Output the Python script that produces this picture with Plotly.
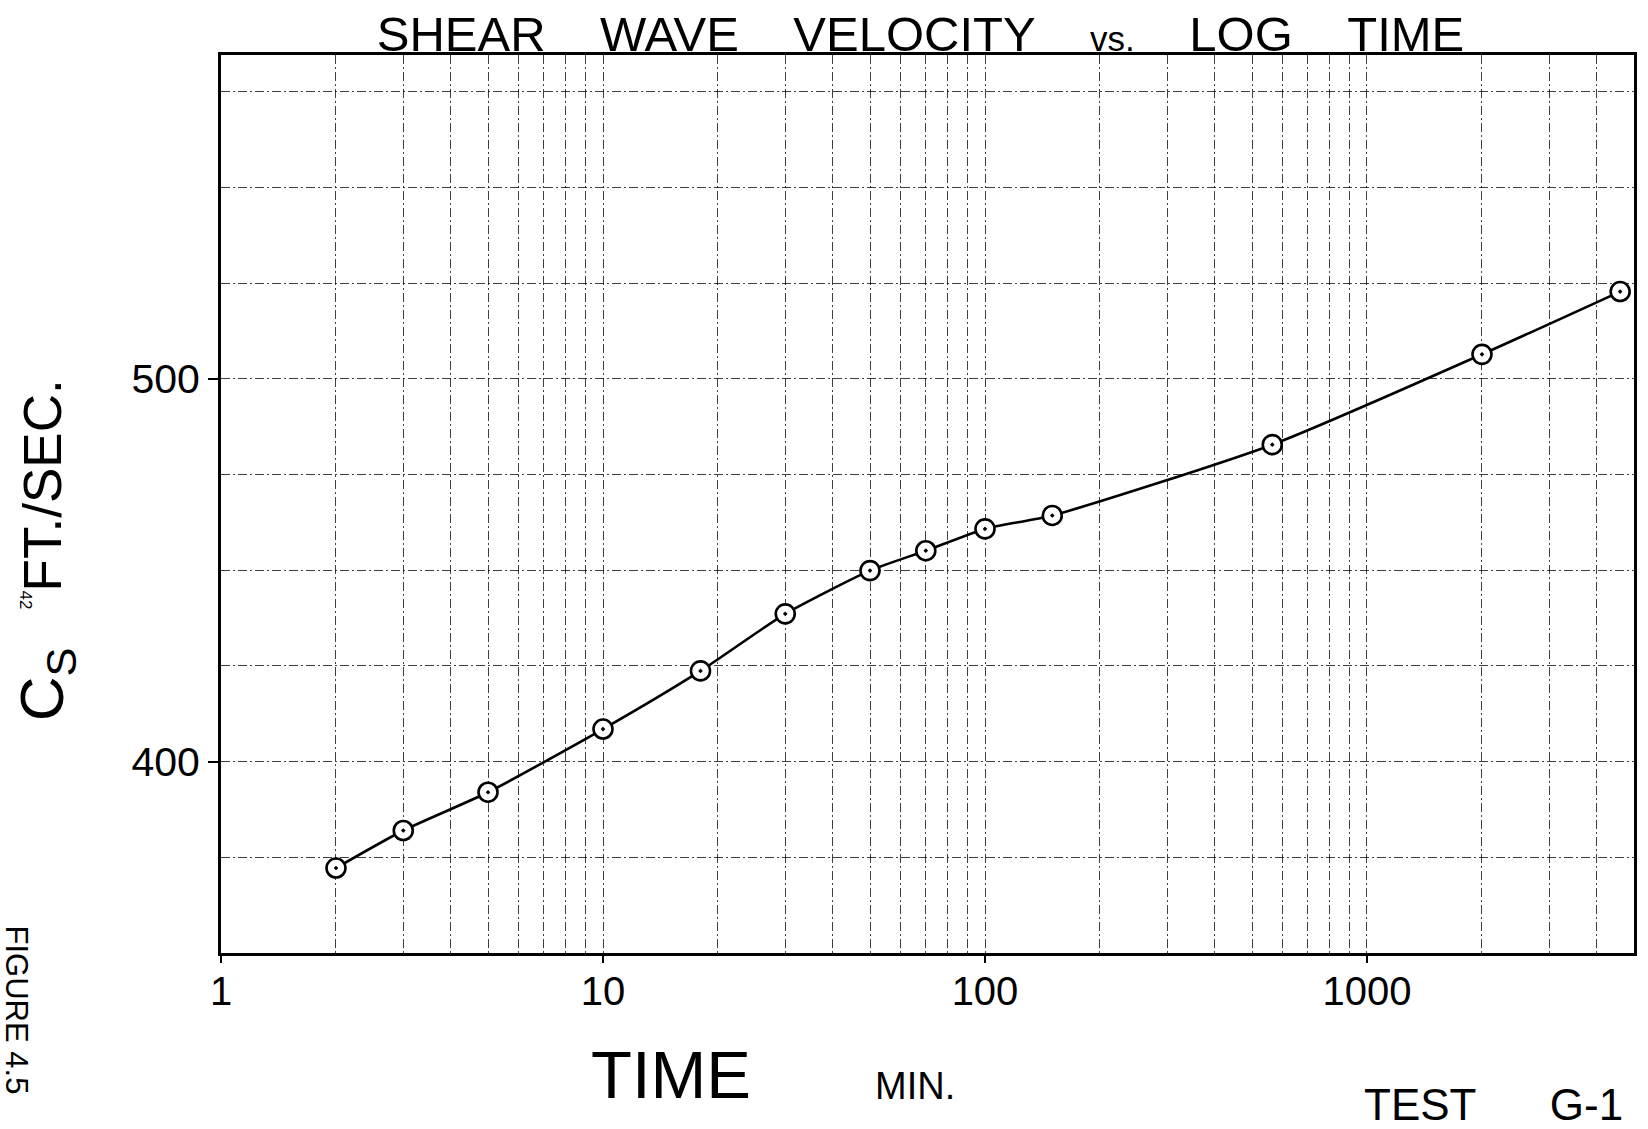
import math
import plotly.graph_objects as go

# ---------------- data ----------------
time_min = [2, 3, 5, 10, 18, 30, 50, 70, 100, 150, 565, 2000, 4600]
cs_ft_per_sec = [372.2, 382.0, 392.0, 408.5, 423.7, 438.6, 449.9, 455.1,
                 460.8, 464.3, 482.8, 506.4, 522.8]

x_tick_vals = [1, 10, 100, 1000]
x_tick_text = ["1", "10", "100", "1000"]
x_minor_vals = [2, 3, 4, 5, 6, 7, 8, 9,
                20, 30, 40, 50, 60, 70, 80, 90,
                200, 300, 400, 500, 600, 700, 800, 900,
                2000, 3000, 4000, 5000]
y_tick_vals = [400, 500]
y_tick_text = ["400", "500"]
y_minor_vals = [350, 375, 425, 450, 475, 525, 550, 575]

x_range_min, x_range_max = 1, 5000
y_range_min, y_range_max = 350, 584.6

# ---------------- layout geometry (pixels) ----------------
W, H = 1648, 1129
L, R, T, B = 221, 1637, 55, 953
FONT = "Liberation Sans, Arial, sans-serif"


def px(xp):
    return (xp - L) / (R - L)


def py(yp):
    return (B - yp) / (B - T)


GRID = "rgba(0,0,0,0.75)"
DASH = "9px,3px,2px,3px"

fig = go.Figure()
fig.add_trace(go.Scatter(
    x=time_min, y=cs_ft_per_sec,
    mode="lines+markers",
    line=dict(color="black", width=2.6, shape="spline", smoothing=0.6),
    marker=dict(symbol="circle-dot", size=19, color="white",
                line=dict(color="black", width=2.6)),
    showlegend=False,
))

fig.update_xaxes(
    type="log",
    range=[math.log10(x_range_min), math.log10(x_range_max)],
    tickmode="array", tickvals=x_tick_vals, ticktext=x_tick_text,
    ticks="outside", ticklen=7, tickwidth=2, tickcolor="black",
    ticklabelstandoff=-6,
    tickfont=dict(family=FONT, size=40, color="black"),
    showgrid=True, gridcolor=GRID, gridwidth=1.2, griddash=DASH,
    showline=True, linecolor="black", linewidth=3, mirror=True,
    zeroline=False,
    minor=dict(tickmode="array", tickvals=x_minor_vals, ticks="",
               showgrid=True, gridcolor=GRID, gridwidth=1, griddash=DASH),
)
fig.update_yaxes(
    range=[y_range_min, y_range_max],
    tickmode="array", tickvals=y_tick_vals, ticktext=y_tick_text,
    ticks="outside", ticklen=10, tickwidth=2, tickcolor="black",
    tickfont=dict(family=FONT, size=41, color="black"),
    showgrid=True, gridcolor=GRID, gridwidth=1.2, griddash=DASH,
    showline=True, linecolor="black", linewidth=3, mirror=True,
    zeroline=False,
    minor=dict(tickmode="array", tickvals=y_minor_vals, ticks="",
               showgrid=True, gridcolor=GRID, gridwidth=1, griddash=DASH),
)

sp = "\u00a0" * 4
title_text = ("SHEAR" + sp + "WAVE" + sp + "VELOCITY" + sp
              + "<span style='font-size:35px'>vs.</span>" + sp
              + "LOG" + sp + "TIME")

annotations = [
    dict(text="C<sub>S</sub>", x=px(46), y=py(684), textangle=-90,
         font=dict(family=FONT, size=62, color="black")),
    dict(text="FT./SEC.", x=px(42), y=py(485), textangle=-90,
         font=dict(family=FONT, size=53, color="black")),
    dict(text="42", x=px(26), y=py(600), textangle=90,
         font=dict(family=FONT, size=17, color="black")),
    dict(text="FIGURE 4.5", x=px(17), y=py(1010), textangle=90,
         font=dict(family=FONT, size=31, color="black")),
    dict(text="TIME", x=px(672), y=py(1074),
         font=dict(family=FONT, size=67, color="black")),
    dict(text="MIN.", x=px(916), y=py(1086),
         font=dict(family=FONT, size=38, color="black")),
    dict(text="TEST" + "\u00a0" * 6 + "G-1", x=px(1496), y=py(1104),
         font=dict(family=FONT, size=44, color="black")),
]
for a in annotations:
    a.update(xref="paper", yref="paper", showarrow=False,
             xanchor="center", yanchor="middle")

fig.update_layout(
    width=W, height=H, autosize=False,
    margin=dict(l=L, r=W - R, t=T, b=H - B, pad=0),
    paper_bgcolor="white", plot_bgcolor="white",
    title=dict(text=title_text, x=px(922), xref="paper", xanchor="center",
               y=1 - 34 / H, yref="container", yanchor="middle",
               font=dict(family=FONT, size=49, color="black")),
    annotations=annotations,
    showlegend=False,
)

fig.write_html("out.html")
